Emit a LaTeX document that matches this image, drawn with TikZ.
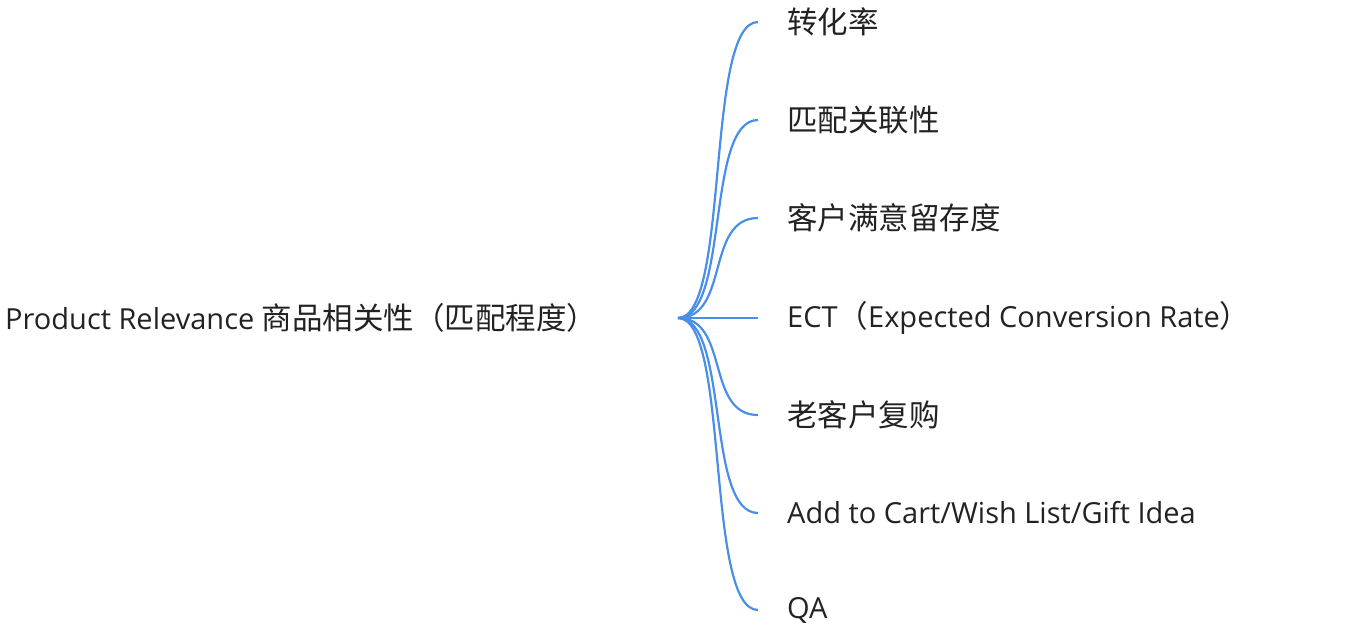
\documentclass[tikz,border=0pt]{standalone}
\usepackage{fontspec}
\setmainfont{Noto Sans CJK SC}
\newfontfamily\lat{Open Sans}
\definecolor{br}{HTML}{4A8FE7}
\definecolor{tx}{HTML}{222222}
\begin{document}
\begin{tikzpicture}[x=1pt,y=-1pt,
  lab/.style={anchor=west,inner sep=0pt,text=tx,font=\fontsize{30.5}{36}\selectfont},
  edge/.style={draw=br,line width=2.2pt}]
\useasboundingbox (0,0) rectangle (1352,634);
\node[lab] (root) at (5,318) {{\lat\fontsize{29}{36}\selectfont Product Relevance }商品相关性（匹配程度）};
\coordinate (o) at (678,318);
\foreach \n/\y/\t in {a/22/转化率, b/120/匹配关联性, c/218/客户满意留存度, d/318/{{\lat\fontsize{29}{36}\selectfont ECT}（{\lat\fontsize{29}{36}\selectfont Expected Conversion Rate}）}, e/415/老客户复购, f/513/{\lat\fontsize{29}{36}\selectfont Add to Cart/Wish List/Gift Idea}, g/610/{\lat\fontsize{29}{36}\selectfont QA}}{
  \coordinate (e\n) at (758,\y);
  \node[lab] (\n) at (787,\y) {\t};
  \draw[edge] (o) .. controls (730,318) and (705,\y) .. (e\n);
}
\end{tikzpicture}
\end{document}
